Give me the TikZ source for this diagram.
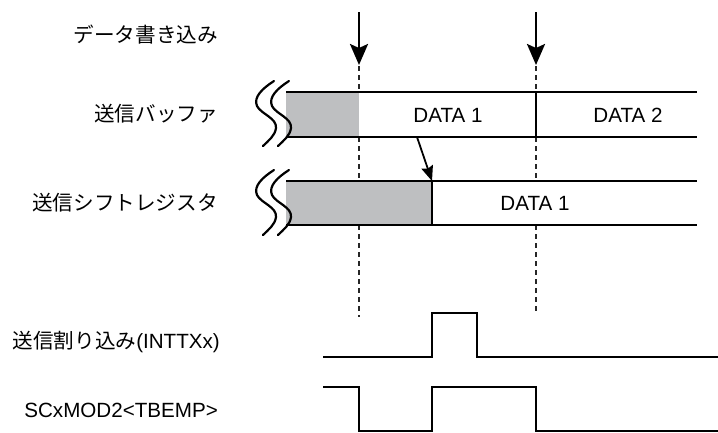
\documentclass[tikz,border=0pt]{standalone}
\usepackage{fontspec}
\setmainfont{Liberation Sans}
\newfontfamily\jp{Noto Sans CJK JP}
\usetikzlibrary{arrows.meta,calc}
\definecolor{grayfill}{RGB}{190,191,193}
\begin{document}
\begin{tikzpicture}[x=1pt,y=-1pt,
  lbl/.style={anchor=east,inner sep=0pt,font=\fontsize{20.6}{24}\selectfont},
  dlbl/.style={inner sep=0pt,font=\fontsize{20.6}{24}\selectfont},
  boxline/.style={line width=2.4pt},
  sig/.style={line width=2.4pt,line join=miter},
  guide/.style={line width=1.5pt,dash pattern=on 5pt off 4pt,black!85},
  wr/.style={line width=2.6pt,-{Stealth[length=21pt,width=18pt,inset=4pt]}},
  xfer/.style={line width=1.8pt,-{Stealth[length=15pt,width=12pt,inset=2pt]}},
  cut/.style={line width=2.2pt,line cap=round},
  shade/.style={fill=grayfill}]
\useasboundingbox (0,0) rectangle (718,432);

% labels
\node[lbl] (lwrite) at (218,35) {\jp データ書き込み};
\node[lbl] (lbuf) at (218,114) {\jp 送信バッファ};
\node[lbl] (lshift) at (218,203) {\jp 送信シフトレジスタ};
\node[lbl] (lint) at (220,342) {{\jp 送信割り込み}(INTTXx)};
\node[lbl] (lmod) at (218,410) {SCxMOD2<TBEMP>};

% coordinates
\coordinate (w1a) at (359,12);
\coordinate (w1b) at (359,65);
\coordinate (w2a) at (536,12);
\coordinate (w2b) at (536,65);

% write arrows
\draw[wr] (w1a) -- (w1b);
\draw[wr] (w2a) -- (w2b);

% dashed guides
\draw[guide] (359,66) -- (359,92);
\draw[guide] (359,137) -- (359,181);
\draw[guide] (359,225) -- (359,317);
\draw[guide] (536,66) -- (536,92);
\draw[guide] (536,137) -- (536,181);
\draw[guide] (536,225) -- (536,312);

% transmit buffer
\fill[shade] (286,92) rectangle (359,137);
\draw[boxline] (286,92) -- (697,92);
\draw[boxline] (286,137) -- (697,137);
\draw[boxline] (536,92) -- (536,137);
\node[dlbl] (bd1) at (448,115) {DATA 1};
\node[dlbl] (bd2) at (628,115) {DATA 2};

% shift register
\fill[shade] (286,181) rectangle (432,225);
\draw[boxline] (286,181) -- (697,181);
\draw[boxline] (286,225) -- (697,225);
\draw[boxline] (432,181) -- (432,225);
\node[dlbl] (sd1) at (535,203) {DATA 1};

% squiggles
\foreach \t in {92,181}{
  \foreach \dx in {0,15}{
    \draw[cut] ($(274+\dx,\t-11)$) .. controls ($(263+\dx,\t-4)$) and ($(253+\dx,\t+5)$) .. ($(257+\dx,\t+14)$)
      .. controls ($(261+\dx,\t+22)$) and ($(277+\dx,\t+26)$) .. ($(276+\dx,\t+36)$)
      .. controls ($(275+\dx,\t+44)$) and ($(268+\dx,\t+49)$) .. ($(263+\dx,\t+54)$);
  }
}

% transfer arrow
\coordinate (xa) at (417,137);
\coordinate (xb) at (432,181);
\draw[xfer] (xa) -- (xb);

% signals
\draw[sig] (323,357) -- (432,357) -- (432,313) -- (477,313) -- (477,357) -- (718,357);
\draw[sig] (323,387) -- (359,387) -- (359,431) -- (432,431) -- (432,387) -- (536,387) -- (536,431) -- (718,431);
\end{tikzpicture}
\end{document}
